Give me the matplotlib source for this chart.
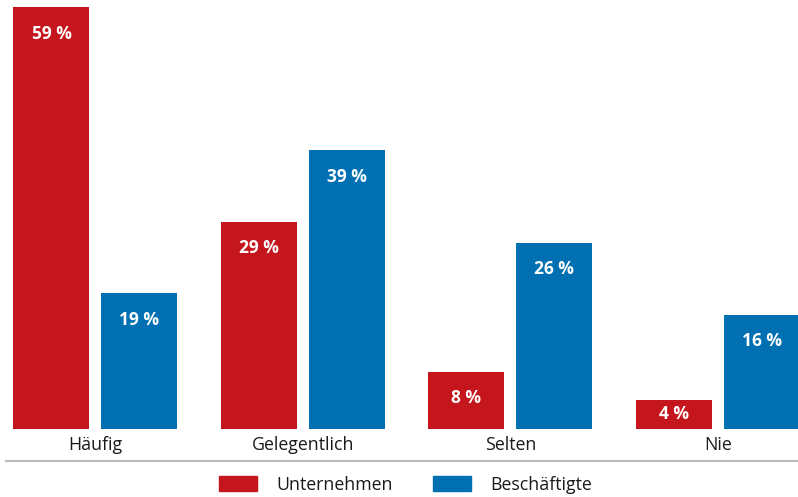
import numpy as np
import matplotlib.pyplot as plt
from matplotlib.patches import Rectangle
from matplotlib.lines import Line2D

plt.rcParams['font.family'] = ['Open Sans', 'DejaVu Sans']

categories = ['Häufig', 'Gelegentlich', 'Selten', 'Nie']
unternehmen = [59, 29, 8, 4]
beschaeftigte = [19, 39, 26, 16]
series_names = ['Unternehmen', 'Beschäftigte']

RED = '#C4161C'
BLUE = '#0070B2'

fig = plt.figure(figsize=(7.98, 4.97), dpi=100)
ax = fig.add_axes([0, 68 / 497, 1, 429 / 497])

x = np.arange(len(categories))
w = 0.366
off = 0.212
bars_u = ax.bar(x - off, unternehmen, w, color=RED)
bars_b = ax.bar(x + off, beschaeftigte, w, color=BLUE)

ax.set_xlim(-0.460, 3.386)
ax.set_ylim(0, 60)

# value labels, inside the bar near its top (centered for short bars)
for bars in (bars_u, bars_b):
    for b in bars:
        h = b.get_height()
        cx = b.get_x() + b.get_width() / 2
        if h > 6:
            ax.annotate(f'{h:g} %', (cx, h), xytext=(0, -19), textcoords='offset points',
                        ha='center', va='center', color='white', fontsize=12.5,
                        fontweight='bold')
        else:
            ax.text(cx, h / 2 + 0.1, f'{h:g} %', ha='center', va='center',
                    color='white', fontsize=12.5, fontweight='bold')

ax.set_xticks(x)
ax.set_xticklabels(categories, fontsize=12.8, color='#1a1a1a')
ax.tick_params(axis='x', length=0, pad=5)
ax.set_yticks([])
for s in ax.spines.values():
    s.set_visible(False)

# separator line above the legend
fig.add_artist(Line2D([6 / 798, 1], [36 / 497, 36 / 497], color='#BBBBBB', lw=1.5))

# legend
for i, (name, col) in enumerate(zip(series_names, [RED, BLUE])):
    x0 = [219, 433][i]
    fig.add_artist(Rectangle((x0 / 798, 6 / 497), 38 / 798, 15 / 497, color=col,
                             transform=fig.transFigure))
    fig.text((x0 + 57) / 798, 12.5 / 497, name, ha='left', va='center',
             fontsize=12.8, color='#1a1a1a')

fig.savefig('out.png', dpi=100)
